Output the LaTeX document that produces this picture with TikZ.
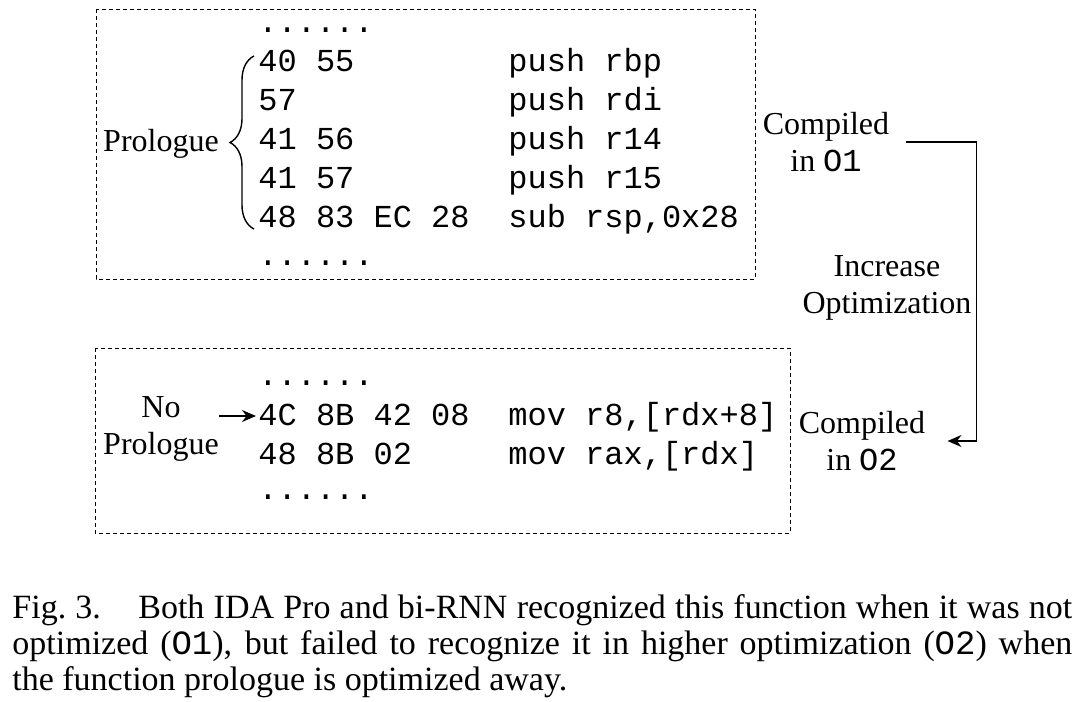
\documentclass[tikz,border=0pt]{standalone}
\usepackage{fontspec}
\setmainfont{Liberation Serif}
\setmonofont{Liberation Mono}
\usetikzlibrary{arrows.meta,decorations.pathreplacing}

\begin{document}
\begin{tikzpicture}[x=0.5pt, y=-0.5pt,
    codebox/.style={draw, dash pattern=on 2pt off 1.5pt, line width=0.5pt},
    code/.style={anchor=base west, inner sep=0pt, font=\fontsize{16}{18}\ttfamily},
    lbl/.style={align=center, inner sep=0pt, font=\fontsize{16}{18.5}\selectfont},
    arr/.style={-{Stealth[length=7pt,width=6pt]}, line width=0.8pt}]
        \useasboundingbox (0,0) rectangle (1083,702);

        % upper box: compiled in O1
        \draw[codebox] (96,9) rectangle (755,279);
        \node[code] (dotsA) at (258,32) {......};
        \foreach \hex/\asm [count=\i] in {{40 55}/{push rbp}, {57}/{push rdi}, {41 56}/{push r14}, {41 57}/{push r15}, {48 83 EC 28}/{sub rsp,0x28}} {
          \node[code] (hexA\i) at (258, {32 + 39*\i}) {\hex};
          \node[code] (asmA\i) at (508, {32 + 39*\i}) {\asm};
        }
        \node[code] (dotsB) at (258,265) {......};

        \draw[decorate, decoration={brace, amplitude=12pt}, line width=0.7pt] (254,229) -- (254,56);
        \node[lbl] (pro) at (161,144) {Prologue};

        % lower box: compiled in O2
        \draw[codebox] (95,348) rectangle (790,533);
        \node[code] (dotsC) at (258,385) {......};
        \foreach \hex/\asm [count=\i] in {{4C 8B 42 08}/{mov r8,[rdx+8]}, {48 8B 02}/{mov rax,[rdx]}} {
          \node[code] (hexB\i) at (258, {386 + 39*\i}) {\hex};
          \node[code] (asmB\i) at (508, {386 + 39*\i}) {\asm};
        }
        \node[code] (dotsD) at (258,499) {......};

        \node[lbl] (nopro) at (161,429) {No\\Prologue};
        \coordinate (tipA) at ([xshift=-1pt, yshift=4.5pt]hexB1.base west);
        \draw[arr] (nopro.east |- tipA) -- (tipA);

        % optimization levels
        \node[lbl] (opt1) at (826,142) {Compiled\\in \texttt{O1}};
        \node[lbl] (opt2) at (862,441) {Compiled\\in \texttt{O2}};
        \node[lbl] (incr) at (887,288) {Increase\\Optimization};
        \draw[arr] ([xshift=8pt]opt1.east) -- ++(71,0) |- ([xshift=11pt]opt2.east);

        % caption
        \node[anchor=north west, inner sep=0pt, text width=530pt, align=justify,
              font=\fontsize{17}{18}\selectfont] (capt) at (12,594)
          {Fig.~3.\hspace{1.1em}Both IDA Pro and bi-RNN recognized this function when it was not\linebreak
           optimized (\texttt{O1}), but failed to recognize it in higher optimization (\texttt{O2}) when\linebreak
           the function prologue is optimized away.};
\end{tikzpicture}
\end{document}
